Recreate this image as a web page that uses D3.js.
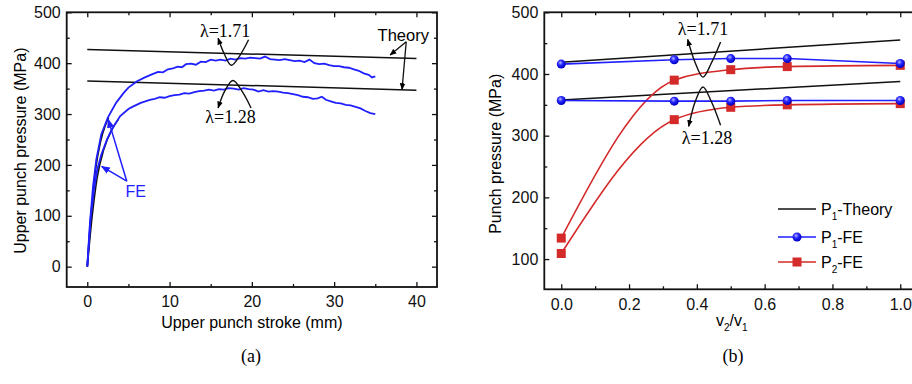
<!DOCTYPE html>
<html>
<head>
<meta charset="utf-8">
<script src="https://cdn.jsdelivr.net/npm/d3@7"></script>
<style>
  body { margin: 0; background: #fff; }
  svg { display: block; }
  .tick text { font-family: "Liberation Sans", Arial, sans-serif; font-size: 16px; fill: #111; }
</style>
</head>
<body>
<svg id="chart" width="912" height="384"></svg>
<script>
// ---- panel (a) data ----
const strokeTicks = [0, 10, 20, 30, 40];
const pressureTicksA = [0, 100, 200, 300, 400, 500];
const theoryStroke = [0, 40];
const theoryA171 = [427, 409];
const theoryA128 = [365, 347];

const feStroke171 = [0, 0.3, 0.7, 1.1, 1.7, 2.5, 3.5, 4.4, 5, 6, 7, 8, 8.6, 9.2, 9.8, 10.4, 11, 11.5, 12, 12.6, 13.2, 13.8, 14.4, 15, 15.6, 16.2, 16.8, 17.4, 18, 18.6, 19.2, 19.8, 20.4, 21, 21.6, 22.2, 22.8, 23.4, 24, 24.6, 25.2, 25.8, 26.4, 27, 27.6, 28.2, 28.8, 29.4, 30, 30.6, 31.2, 31.8, 32.4, 33, 33.6, 34.2, 34.6, 35];
const fePress171 = [0, 80, 158, 211, 260, 293, 322, 341, 352, 364, 372, 379, 383, 382, 388, 390, 393, 392, 398, 399, 397, 403, 402, 407, 405, 407, 405, 409, 407, 410, 409, 411, 410, 409, 413, 408, 407, 406, 408, 406, 404, 405, 402, 407, 400, 398, 399, 396, 394, 394, 392, 391, 388, 385, 380, 377, 372, 374];
const feStroke128 = [0, 0.4, 0.8, 1.2, 1.7, 2.4, 3, 4, 5, 5.6, 6.5, 7.6, 8.2, 8.8, 9.4, 10, 10.6, 11.2, 11.8, 12.4, 13, 13.6, 14.2, 14.8, 15.4, 16, 16.6, 17.2, 17.8, 18.4, 19, 19.6, 20.2, 20.8, 21.4, 22, 22.6, 23.2, 23.8, 24.4, 25, 25.6, 26.2, 26.8, 27.4, 28, 28.5, 29, 29.6, 30.2, 30.8, 31.4, 32, 32.6, 33.2, 33.8, 34.4, 35];
const fePress128 = [0, 95, 150, 190, 220, 250, 270, 296, 310, 315, 322, 328, 330, 333, 332, 335, 337, 338, 341, 340, 343, 345, 346, 348, 346, 349, 348, 351, 350, 348, 351, 349, 348, 344, 347, 344, 345, 344, 342, 341, 339, 337, 334, 333, 330, 331, 334, 328, 325, 322, 321, 318, 317, 314, 311, 306, 302, 300];
// black curves partly hidden under the FE curves at the start
const blackStroke171 = [0, 0.5, 1, 1.6, 2.2, 2.6];
const blackPress171 = [0, 110, 190, 245, 278, 293];
const blackStroke128 = [0, 0.6, 1.2, 2, 3, 3.8];
const blackPress128 = [0, 100, 175, 230, 270, 290];

// ---- panel (b) data ----
const ratioTicks = [0, 0.2, 0.4, 0.6, 0.8, 1.0];
const pressureTicksB = [100, 200, 300, 400, 500];
const ratio = [0, 1 / 3, 0.5, 2 / 3, 1];
const theoryRatio = [0, 1];
const p1Theory171 = [419, 455];
const p1Theory128 = [358, 388];
const p1Fe171 = [416, 423, 425, 425, 417];
const p1Fe128 = [357, 356, 356, 357, 357];
const p2Fe171 = [134, 390, 407, 412, 414];
const p2Fe128 = [109, 326, 346, 350, 352];
const legendNames = [["P", "1", "-Theory"], ["P", "1", "-FE"], ["P", "2", "-FE"]];

const BLUE = '#1f1fff';
const RED = '#d42a2a';
const sans = '"Liberation Sans", Arial, sans-serif';
const serif = '"Liberation Serif", "Times New Roman", serif';

const svg = d3.select('#chart');
const defs = svg.append('defs');
defs.append('marker').attr('id', 'arrK').attr('viewBox', '0 0 10 10').attr('refX', 9).attr('refY', 5)
  .attr('markerWidth', 7).attr('markerHeight', 7).attr('orient', 'auto-start-reverse').attr('markerUnits', 'userSpaceOnUse')
  .append('path').attr('d', 'M0,1 L10,5 L0,9 z').attr('fill', '#000');
defs.append('marker').attr('id', 'arrB').attr('viewBox', '0 0 10 10').attr('refX', 9).attr('refY', 5)
  .attr('markerWidth', 9).attr('markerHeight', 9).attr('orient', 'auto-start-reverse').attr('markerUnits', 'userSpaceOnUse')
  .append('path').attr('d', 'M0,1 L10,5 L0,9 z').attr('fill', BLUE);
const grad = defs.append('radialGradient').attr('id', 'ball').attr('cx', '40%').attr('cy', '35%').attr('r', '60%');
grad.append('stop').attr('offset', '0%').attr('stop-color', '#b8b8ff');
grad.append('stop').attr('offset', '45%').attr('stop-color', '#2a2aff');
grad.append('stop').attr('offset', '100%').attr('stop-color', '#0000c8');

function frame(g, x, y, xTicks, xMinor, yTicks, yMinor, fmtX) {
  const [x0, x1] = x.range();
  const [y0, y1] = y.range();
  g.append('g').attr('transform', `translate(0,${y0})`)
    .call(d3.axisBottom(x).tickValues(xTicks).tickSizeInner(-5).tickSizeOuter(0).tickPadding(9).tickFormat(fmtX));
  g.append('g').attr('transform', `translate(0,${y0})`)
    .call(d3.axisBottom(x).tickValues(xMinor).tickSizeInner(-3).tickSizeOuter(0).tickFormat(''));
  g.append('g').attr('transform', `translate(0,${y1})`)
    .call(d3.axisTop(x).tickValues(xTicks).tickSizeInner(-5).tickSizeOuter(0).tickFormat(''));
  g.append('g').attr('transform', `translate(0,${y1})`)
    .call(d3.axisTop(x).tickValues(xMinor).tickSizeInner(-3).tickSizeOuter(0).tickFormat(''));
  g.append('g').attr('transform', `translate(${x0},0)`)
    .call(d3.axisLeft(y).tickValues(yTicks).tickSizeInner(-5).tickSizeOuter(0).tickPadding(6));
  g.append('g').attr('transform', `translate(${x0},0)`)
    .call(d3.axisLeft(y).tickValues(yMinor).tickSizeInner(-3).tickSizeOuter(0).tickFormat(''));
  g.append('g').attr('transform', `translate(${x1},0)`)
    .call(d3.axisRight(y).tickValues(yTicks).tickSizeInner(-5).tickSizeOuter(0).tickFormat(''));
  g.append('g').attr('transform', `translate(${x1},0)`)
    .call(d3.axisRight(y).tickValues(yMinor).tickSizeInner(-3).tickSizeOuter(0).tickFormat(''));
  g.selectAll('.domain').remove();
  g.selectAll('.tick line').attr('stroke', '#111').attr('stroke-width', 1.3);
  g.append('rect').attr('x', x0).attr('y', y1).attr('width', x1 - x0).attr('height', y0 - y1)
    .attr('fill', 'none').attr('stroke', '#111').attr('stroke-width', 1.8);
}

function zipLine(xs, ys) { return xs.map((v, i) => [v, ys[i]]); }

// =============== panel (a) ===============
const xA = d3.scaleLinear().domain([-2.5, 42.5]).range([66.7, 437]);
const yA = d3.scaleLinear().domain([-40, 500]).range([287, 12.3]);
const gA = svg.append('g');
frame(gA, xA, yA, strokeTicks, [5, 15, 25, 35], pressureTicksA, [50, 150, 250, 350, 450], d3.format('d'));

const lineA = d3.line().x(d => xA(d[0])).y(d => yA(d[1]));
[[theoryStroke, theoryA171], [theoryStroke, theoryA128]].forEach(([xs, ys]) => {
  gA.append('path').attr('d', lineA(zipLine(xs, ys))).attr('fill', 'none').attr('stroke', '#111').attr('stroke-width', 1.5);
});
const smoothA = d3.line().x(d => xA(d[0])).y(d => yA(d[1])).curve(d3.curveMonotoneX);
[[blackStroke171, blackPress171], [blackStroke128, blackPress128]].forEach(([xs, ys]) => {
  gA.append('path').attr('d', smoothA(zipLine(xs, ys))).attr('fill', 'none').attr('stroke', '#111').attr('stroke-width', 1.6);
});
[[feStroke171, fePress171], [feStroke128, fePress128]].forEach(([xs, ys]) => {
  gA.append('path').attr('d', lineA(zipLine(xs, ys))).attr('fill', 'none').attr('stroke', BLUE).attr('stroke-width', 1.8);
});

// annotations (a)
const annot = d3.line().curve(d3.curveCatmullRom);
function curveArrow(g, x, y, pts, marker, color) {
  g.append('path').attr('d', annot(pts.map(p => [x(p[0]), y(p[1])])))
    .attr('fill', 'none').attr('stroke', color).attr('stroke-width', 1.4)
    .attr('marker-start', `url(#${marker})`);
}
curveArrow(gA, xA, yA, [[15.9, 449], [16.6, 420], [17.5, 396], [18.5, 414], [19.6, 446]], 'arrK', '#111');
curveArrow(gA, xA, yA, [[15.9, 312], [16.7, 345], [17.7, 366], [18.8, 345], [19.9, 312]], 'arrK', '#111');
gA.append('text').attr('x', xA(16.75)).attr('y', yA(464)).attr('dy', '0.35em').attr('text-anchor', 'middle')
  .style('font-family', serif).style('font-size', '18px').text('λ=1.71');
gA.append('text').attr('x', xA(17.4)).attr('y', yA(295)).attr('dy', '0.35em').attr('text-anchor', 'middle')
  .style('font-family', serif).style('font-size', '18px').text('λ=1.28');
gA.append('text').attr('x', xA(38.4)).attr('y', yA(455)).attr('dy', '0.35em').attr('text-anchor', 'middle')
  .style('font-family', sans).style('font-size', '16.5px').text('Theory');
[[36.8, 416], [38.25, 348]].forEach(t => {
  gA.append('line').attr('x1', xA(38.76)).attr('y1', yA(442)).attr('x2', xA(t[0])).attr('y2', yA(t[1]))
    .attr('stroke', '#111').attr('stroke-width', 1.3).attr('marker-end', 'url(#arrK)');
});
gA.append('text').attr('x', xA(5.9)).attr('y', yA(148)).attr('dy', '0.35em').attr('text-anchor', 'middle')
  .style('font-family', sans).style('font-size', '16px').style('fill', BLUE).text('FE');
[[2.55, 289], [1.75, 197]].forEach(t => {
  gA.append('line').attr('x1', xA(4.8)).attr('y1', yA(168)).attr('x2', xA(t[0])).attr('y2', yA(t[1]))
    .attr('stroke', BLUE).attr('stroke-width', 1.5).attr('marker-end', 'url(#arrB)');
});

gA.append('text').attr('transform', `translate(20,${(12.3 + 287) / 2 + 1}) rotate(-90)`).attr('dy', '0.35em')
  .attr('text-anchor', 'middle').style('font-family', sans).style('font-size', '16px').text('Upper punch pressure (MPa)');
gA.append('text').attr('x', xA(20)).attr('y', 322).attr('dy', '0.35em').attr('text-anchor', 'middle')
  .style('font-family', sans).style('font-size', '16px').text('Upper punch stroke (mm)');
svg.append('text').attr('x', 251).attr('y', 356).attr('dy', '0.35em').attr('text-anchor', 'middle')
  .style('font-family', serif).style('font-size', '18px').text('(a)');

// =============== panel (b) ===============
const xB = d3.scaleLinear().domain([-0.05, 1.05]).range([544.3, 917.2]);
const yB = d3.scaleLinear().domain([51, 500]).range([289.3, 12.3]);
const gB = svg.append('g');
frame(gB, xB, yB, ratioTicks, [0.1, 0.3, 0.5, 0.7, 0.9], pressureTicksB, [150, 250, 350, 450], d3.format('.1f'));

const lineB = d3.line().x(d => xB(d[0])).y(d => yB(d[1]));
const smoothB = d3.line().x(d => xB(d[0])).y(d => yB(d[1])).curve(d3.curveMonotoneX);
[p1Theory171, p1Theory128].forEach(ys => {
  gB.append('path').attr('d', lineB(zipLine(theoryRatio, ys))).attr('fill', 'none').attr('stroke', '#111').attr('stroke-width', 1.5);
});
[p2Fe171, p2Fe128].forEach(ys => {
  gB.append('path').attr('d', smoothB(zipLine(ratio, ys))).attr('fill', 'none').attr('stroke', RED).attr('stroke-width', 1.6);
});
[p1Fe171, p1Fe128].forEach(ys => {
  gB.append('path').attr('d', lineB(zipLine(ratio, ys))).attr('fill', 'none').attr('stroke', BLUE).attr('stroke-width', 1.6);
});
[p2Fe171, p2Fe128].forEach(ys => {
  gB.selectAll(null).data(zipLine(ratio, ys)).enter().append('rect')
    .attr('x', d => xB(d[0]) - 4.5).attr('y', d => yB(d[1]) - 4.5).attr('width', 9).attr('height', 9).attr('fill', RED);
});
[p1Fe171, p1Fe128].forEach(ys => {
  gB.selectAll(null).data(zipLine(ratio, ys)).enter().append('circle')
    .attr('cx', d => xB(d[0])).attr('cy', d => yB(d[1])).attr('r', 4.5).attr('fill', 'url(#ball)');
});

curveArrow(gB, xB, yB, [[0.373, 456], [0.394, 420], [0.418, 395], [0.443, 418], [0.47, 452]], 'arrK', '#111');
curveArrow(gB, xB, yB, [[0.376, 315], [0.395, 355], [0.418, 379], [0.443, 355], [0.47, 317]], 'arrK', '#111');
gB.append('text').attr('x', xB(0.418)).attr('y', yB(473)).attr('dy', '0.35em').attr('text-anchor', 'middle')
  .style('font-family', serif).style('font-size', '18px').text('λ=1.71');
gB.append('text').attr('x', xB(0.43)).attr('y', yB(296)).attr('dy', '0.35em').attr('text-anchor', 'middle')
  .style('font-family', serif).style('font-size', '18px').text('λ=1.28');

// legend
const legY = [209, 237, 262];
const legColors = ['#111', BLUE, RED];
legendNames.forEach((name, i) => {
  const lg = gB.append('g').attr('transform', `translate(778,${legY[i]})`);
  lg.append('line').attr('x1', 0).attr('x2', 38).attr('stroke', legColors[i]).attr('stroke-width', 1.6);
  if (i === 1) lg.append('circle').attr('cx', 19).attr('r', 4.5).attr('fill', 'url(#ball)');
  if (i === 2) lg.append('rect').attr('x', 14.5).attr('y', -4.5).attr('width', 9).attr('height', 9).attr('fill', RED);
  const t = lg.append('text').attr('x', 43).attr('dy', '0.35em').style('font-family', sans).style('font-size', '16px');
  t.append('tspan').text(name[0]);
  t.append('tspan').attr('dy', '5').style('font-size', '10px').text(name[1]);
  t.append('tspan').attr('dy', '-5').text(name[2]);
});

gB.append('text').attr('transform', `translate(495,${(12.3 + 289.3) / 2 + 3}) rotate(-90)`).attr('dy', '0.35em')
  .attr('text-anchor', 'middle').style('font-family', sans).style('font-size', '16px').text('Punch pressure (MPa)');
const xt = gB.append('text').attr('x', xB(0.5) + 1).attr('y', 320).attr('dy', '0.35em').attr('text-anchor', 'middle')
  .style('font-family', sans).style('font-size', '16px');
xt.append('tspan').text('v');
xt.append('tspan').attr('dy', '5').style('font-size', '10px').text('2');
xt.append('tspan').attr('dy', '-5').text('/v');
xt.append('tspan').attr('dy', '5').style('font-size', '10px').text('1');
svg.append('text').attr('x', 733).attr('y', 356).attr('dy', '0.35em').attr('text-anchor', 'middle')
  .style('font-family', serif).style('font-size', '18px').text('(b)');
</script>
</body>
</html>
